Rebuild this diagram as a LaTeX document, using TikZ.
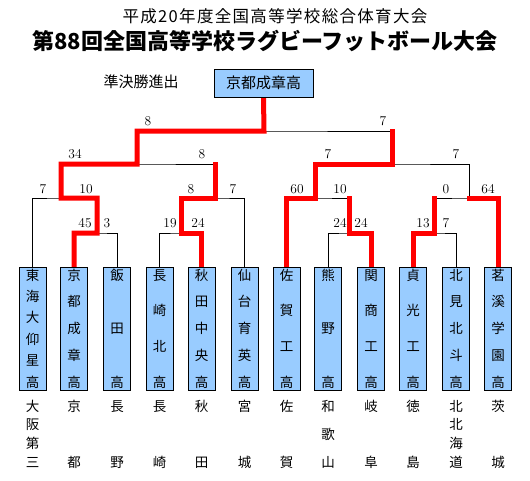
\documentclass[tikz,border=0pt]{standalone}
\usepackage{fontspec}
\usetikzlibrary{calc}
\newfontfamily\jp{Noto Sans CJK JP}
\newfontfamily\jpsp{Noto Sans CJK JP}[LetterSpace=8]
\definecolor{boxblue}{RGB}{153,204,255}
\definecolor{winred}{RGB}{255,0,0}
\newcommand\vchars[2]{\vbox to #1{\offinterlineskip\foreach \vch [count=\vi] in {#2}{\ifnum\vi>1 \vfil\fi\hbox to 14pt{\hss\rule[-2pt]{0pt}{14pt}\vch\hss}}}}
\tikzset{
  team/.style={draw, fill=boxblue, line width=0.9pt, minimum width=27pt, minimum height=123pt, inner sep=0pt,
    font=\jp\fontsize{13.5}{13.5}\selectfont},
  pref/.style={anchor=north, inner sep=0pt, font=\jp\fontsize{13.5}{13.5}\selectfont},
  score/.style={inner sep=0pt, font=\fontsize{13.5}{13.5}\selectfont},
  bline/.style={line width=0.9pt, black},
  win/.style={line width=5pt, winred, line cap=rect, line join=miter},
}
\begin{document}
\begin{tikzpicture}[x=1pt,y=-1pt]
\useasboundingbox (0,0) rectangle (530,480);
% titles
\node[font=\jpsp\fontsize{16.5}{16.5}\selectfont, inner sep=0pt] (title1) at (275,16) {平成20年度全国高等学校総合体育大会};
\node[font=\jp\bfseries\fontsize{22}{22}\selectfont, inner sep=0pt] (title2) at (265,41) {第88回全国高等学校ラグビーフットボール大会};
\node[font=\jp\fontsize{15}{15}\selectfont, inner sep=0pt] (semi) at (141,82) {準決勝進出};
% junctions
\coordinate (r1a) at (97,233);
\coordinate (r1b) at (181,233);
\coordinate (r1c) at (349,233);
\coordinate (r1d) at (434,233);
\coordinate (qa) at (61,198);
\coordinate (qb) at (215,198);
\coordinate (qc) at (315,198);
\coordinate (qd) at (469,198);
\coordinate (sa) at (137,164);
\coordinate (sb) at (392,164);
\coordinate (fin) at (264,131);
% team box centres
\path (32.5,328.5) coordinate (c1) (74,328.5) coordinate (c2) (117,328.5) coordinate (c3)
      (159.5,328.5) coordinate (c4) (201.5,328.5) coordinate (c5) (244.5,328.5) coordinate (c6)
      (286.5,328.5) coordinate (c7) (328,328.5) coordinate (c8) (371,328.5) coordinate (c9)
      (413,328.5) coordinate (c10) (456,328.5) coordinate (c11) (498,328.5) coordinate (c12);
\foreach \i in {1,...,12}{\coordinate (top\i) at ($(c\i)+(0,-61.5)$);}
% black bracket lines
\draw[bline] (top2) |- (r1a) -| (top3);
\draw[bline] (top4) |- (r1b) -| (top5);
\draw[bline] (top8) |- (r1c) -| (top9);
\draw[bline] (top10) |- (r1d) -| (top11);
\draw[bline] (top1) |- (qa) -| (r1a);
\draw[bline] (r1b) |- (qb) -| (top6);
\draw[bline] (top7) |- (qc) -| (r1c);
\draw[bline] (r1d) |- (qd) -| (top12);
\draw[bline] (qa) |- (sa) -| (qb);
\draw[bline] (qc) |- (sb) -| (qd);
\draw[bline] (sa) |- (fin) -| (sb);
% champion box
\node[draw, fill=boxblue, line width=0.9pt, minimum width=99pt, minimum height=28pt, inner sep=0pt,
  font=\jp\fontsize{15}{15}\selectfont] (champ) at (263.5,83) {京都成章高};
% red winner paths
\draw[win] (top2) |- (r1a) |- (qa) |- (sa) |- (fin) -- (champ.south);
\draw[win] (top5) |- (r1b) |- (qb) -- (qb |- sa);
\draw[win] (top7) |- (qc) |- (sb) -- (sb |- fin);
\draw[win] (top9) |- (r1c) -- (r1c |- qc);
\draw[win] (top10) |- (r1d) -- (r1d |- qd);
\draw[win] (top12) |- (qd);
\node[draw, fill=boxblue, line width=0.9pt, minimum width=99pt, minimum height=28pt, inner sep=0pt,
  font=\jp\fontsize{15}{15}\selectfont] (champ2) at (champ) {京都成章高};
% team boxes
\node[team] (t1) at (c1) {\vchars{119pt}{東,海,大,仰,星,高}};
\node[team] (t2) at (c2) {\vchars{119pt}{京,都,成,章,高}};
\node[team] (t3) at (c3) {\vchars{119pt}{飯,田,高}};
\node[team] (t4) at (c4) {\vchars{119pt}{長,崎,北,高}};
\node[team] (t5) at (c5) {\vchars{119pt}{秋,田,中,央,高}};
\node[team] (t6) at (c6) {\vchars{119pt}{仙,台,育,英,高}};
\node[team] (t7) at (c7) {\vchars{119pt}{佐,賀,工,高}};
\node[team] (t8) at (c8) {\vchars{119pt}{熊,野,高}};
\node[team] (t9) at (c9) {\vchars{119pt}{関,商,工,高}};
\node[team] (t10) at (c10) {\vchars{119pt}{貞,光,工,高}};
\node[team] (t11) at (c11) {\vchars{119pt}{北,見,北,斗,高}};
\node[team] (t12) at (c12) {\vchars{119pt}{茗,溪,学,園,高}};
% prefectures
\node[pref] (p1) at (c1 |- 0,399) {\vchars{68pt}{大,阪,第,三}};
\node[pref] (p2) at (c2 |- 0,399) {\vchars{68pt}{京,都}};
\node[pref] (p3) at (c3 |- 0,399) {\vchars{68pt}{長,野}};
\node[pref] (p4) at (c4 |- 0,399) {\vchars{68pt}{長,崎}};
\node[pref] (p5) at (c5 |- 0,399) {\vchars{68pt}{秋,田}};
\node[pref] (p6) at (c6 |- 0,399) {\vchars{68pt}{宮,城}};
\node[pref] (p7) at (c7 |- 0,399) {\vchars{68pt}{佐,賀}};
\node[pref] (p8) at (c8 |- 0,399) {\vchars{68pt}{和,歌,山}};
\node[pref] (p9) at (c9 |- 0,399) {\vchars{68pt}{岐,阜}};
\node[pref] (p10) at (c10 |- 0,399) {\vchars{68pt}{徳,島}};
\node[pref] (p11) at (c11 |- 0,399) {\vchars{68pt}{北,北,海,道}};
\node[pref] (p12) at (c12 |- 0,399) {\vchars{68pt}{茨,城}};
% scores
\node[score] (sf1) at (148,121) {8};
\node[score] (sf2) at (383,121) {7};
\node[score] (ss1) at (75,154) {34};
\node[score] (ss2) at (202,154) {8};
\node[score] (ss3) at (328,154) {7};
\node[score] (ss4) at (456,154) {7};
\node[score] (sq1) at (43,189) {7};
\node[score] (sq2) at (86,189) {10};
\node[score] (sq3) at (191,189) {8};
\node[score] (sq4) at (233,189) {7};
\node[score] (sq5) at (297,189) {60};
\node[score] (sq6) at (340,189) {10};
\node[score] (sq7) at (446,189) {0};
\node[score] (sq8) at (488,189) {64};
\node[score] (sr1) at (85,223) {45};
\node[score] (sr2) at (107,223) {3};
\node[score] (sr3) at (170,223) {19};
\node[score] (sr4) at (198,223) {24};
\node[score] (sr5) at (340,223) {24};
\node[score] (sr6) at (361,223) {24};
\node[score] (sr7) at (423,223) {13};
\node[score] (sr8) at (446,223) {7};
\end{tikzpicture}
\end{document}
